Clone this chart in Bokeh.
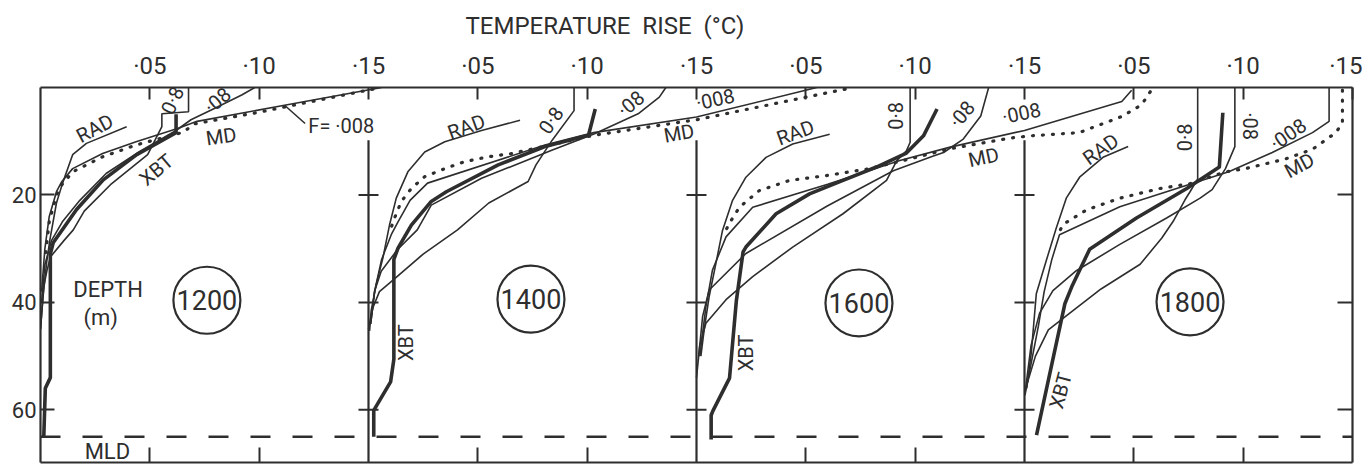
from bokeh.plotting import figure
from bokeh.models import Range1d, LinearAxis, FixedTicker, Label, Title
from bokeh.embed import file_html
from bokeh.resources import INLINE

# ---------------- categories / ticks ----------------
stations = ["1200", "1400", "1600", "1800"]
panel_span = 0.15
top_ticks = [0.05, 0.10, 0.15]
top_tick_labels = ["·05", "·10", "·15"]
bottom_ticks = [0.05, 0.10]
depth_ticks = [20, 40, 60]
depth_tick_labels = ["20", "40", "60"]
mld_depth = 65.0
depth_max = 69.8

# ---------------- profiles: temperature rise (°C) and depth (m) ----------------
# station 1200
xbt_t_1200 = [0.062, 0.062, 0.044, 0.0287, 0.0165, 0.0058, 0.0045, 0.0045, 0.0022, 0.0015]
xbt_d_1200 = [5.0, 8.4, 12.5, 17.2, 22.7, 28.9, 31.0, 54.0, 56.0, 65.0]
rad_t_1200 = [0.0394, 0.021, 0.0147, 0.0101, 0.0073, 0.0043, 0.0028, 0.0012, 0.0]
rad_d_1200 = [7.3, 10.4, 12.5, 17.8, 21.5, 28.3, 32.6, 38.8, 45.0]
md_t_1200 = [0.152, 0.10, 0.07, 0.0655, 0.0437, 0.0284, 0.0147, 0.0096, 0.0073, 0.004, 0.002]
md_d_1200 = [0.3, 4.6, 6.8, 8.3, 10.7, 12.9, 15.7, 18.2, 20.0, 25.0, 32.0]
f0008_t_1200 = [0.156, 0.1116, 0.0716, 0.063, 0.0437, 0.0284, 0.0147, 0.0096, 0.0073, 0.004, 0.002, 0.0005]
f0008_d_1200 = [0.0, 3.3, 6.3, 7.6, 10.1, 12.3, 15.1, 17.6, 19.4, 24.0, 30.0, 38.0]
f008_t_1200 = [0.098, 0.092, 0.0795, 0.0688, 0.062, 0.045, 0.03, 0.018, 0.01, 0.005, 0.002, 0.0005]
f008_d_1200 = [0.0, 1.4, 3.9, 6.0, 8.0, 12.0, 16.0, 21.0, 25.0, 28.5, 33.0, 40.0]
f08_t_1200 = [0.0677, 0.0677, 0.0555, 0.0555, 0.049, 0.032, 0.02, 0.015, 0.0107, 0.0046, 0.003, 0.0015, 0.0]
f08_d_1200 = [0.0, 4.5, 4.9, 7.3, 12.5, 18.1, 23.0, 26.5, 28.5, 31.5, 34.0, 37.0, 45.0]

# station 1400
xbt_t_1400 = [0.1037, 0.1006, 0.0807, 0.0593, 0.0356, 0.0287, 0.0196, 0.0135, 0.0116, 0.0116, 0.0101, 0.0024, 0.0024]
xbt_d_1400 = [4.0, 8.9, 11.0, 14.4, 19.4, 21.2, 25.6, 29.9, 32.0, 50.6, 54.8, 60.1, 65.0]
rad_t_1400 = [0.0693, 0.0517, 0.0349, 0.0257, 0.018, 0.0127, 0.0096, 0.0066, 0.0035, 0.0012, 0.0005]
rad_d_1400 = [6.1, 8.0, 10.1, 12.0, 15.7, 20.6, 25.6, 31.7, 36.7, 41.6, 45.3]
md_t_1400 = [0.218, 0.15, 0.103, 0.0654, 0.0547, 0.044, 0.0349, 0.0257, 0.0196, 0.015, 0.0119, 0.010]
md_d_1400 = [0.3, 6.0, 8.9, 12.3, 12.9, 13.8, 15.1, 16.6, 18.8, 21.2, 24.3, 26.5]
f0008_t_1400 = [0.205, 0.15, 0.103, 0.0807, 0.027, 0.019, 0.0135, 0.0104, 0.006, 0.0028, 0.001]
f0008_d_1400 = [0.0, 5.5, 8.4, 10.7, 17.8, 21.0, 25.0, 27.4, 32.0, 37.9, 44.0]
f008_t_1400 = [0.136, 0.133, 0.1233, 0.1034, 0.0838, 0.0517, 0.0287, 0.0223, 0.0132, 0.0058, 0.0028, 0.001]
f008_d_1400 = [0.0, 1.8, 4.9, 8.6, 11.7, 16.9, 21.9, 26.5, 30.2, 34.2, 37.9, 44.0]
f08_t_1400 = [0.094, 0.094, 0.084, 0.0766, 0.073, 0.055, 0.0407, 0.025, 0.0116, 0.005, 0.002, 0.0]
f08_d_1400 = [0.0, 4.3, 9.8, 14.4, 17.5, 21.5, 26.5, 31.0, 35.7, 38.0, 41.0, 45.0]

# station 1600
xbt_t_1600 = [0.11, 0.1038, 0.096, 0.0823, 0.067, 0.0517, 0.0364, 0.0226, 0.0213, 0.0182, 0.0151, 0.0075, 0.0067, 0.0067]
xbt_d_1600 = [4.0, 9.0, 12.2, 14.8, 17.3, 19.8, 23.5, 29.7, 30.6, 39.8, 54.1, 60.2, 61.0, 65.5]
rad_t_1600 = [0.0609, 0.044, 0.0318, 0.0226, 0.0165, 0.0119, 0.0089, 0.0058, 0.0035, 0.002]
rad_d_1600 = [8.7, 10.5, 13.0, 16.7, 21.0, 26.6, 32.7, 38.9, 45.1, 50.0]
md_t_1600 = [0.2075, 0.2036, 0.1945, 0.175, 0.153, 0.1436, 0.116, 0.0916, 0.0777, 0.0593, 0.0425, 0.0287, 0.0196, 0.015, 0.0127]
md_d_1600 = [0.8, 3.2, 5.4, 8.4, 9.0, 9.4, 11.4, 13.9, 15.2, 16.4, 17.3, 19.2, 22.3, 25.3, 27.2]
f0008_t_1600 = [0.199, 0.1945, 0.15, 0.116, 0.093, 0.06, 0.0257, 0.0135, 0.0073, 0.0043, 0.0015]
f0008_d_1600 = [0.5, 2.6, 8.0, 11.1, 13.6, 18.0, 22.3, 27.8, 34.0, 40.8, 50.0]
f008_t_1600 = [0.1336, 0.13, 0.122, 0.113, 0.108, 0.09, 0.06, 0.0226, 0.0058, 0.0028, 0.001]
f008_d_1600 = [0.0, 5.3, 9.6, 12.1, 12.8, 15.5, 22.0, 30.9, 37.7, 42.6, 50.0]
f08_t_1600 = [0.0977, 0.0977, 0.096, 0.0916, 0.0869, 0.067, 0.044, 0.0257, 0.0135, 0.0043, 0.0015, 0.0]
f08_d_1600 = [0.0, 10.2, 11.8, 13.6, 17.3, 23.5, 29.7, 35.2, 39.5, 43.9, 48.0, 54.0]

# station 1800
xbt_t_1800 = [0.0907, 0.0891, 0.0742, 0.0512, 0.0298, 0.0216, 0.0185, 0.0055]
xbt_d_1800 = [4.7, 14.8, 18.8, 24.3, 30.1, 37.1, 40.2, 64.7]
rad_t_1800 = [0.0474, 0.0359, 0.0252, 0.0191, 0.0145, 0.0099, 0.0054, 0.0031, 0.001]
rad_d_1800 = [11.0, 13.0, 16.7, 20.6, 26.2, 32.3, 38.4, 49.4, 56.0]
md_t_1800 = [0.1454, 0.1454, 0.1424, 0.1317, 0.1194, 0.101, 0.0919, 0.0757, 0.0619, 0.0436, 0.0283, 0.0176, 0.0153]
md_d_1800 = [0.5, 6.6, 8.4, 11.5, 13.3, 15.1, 15.7, 17.9, 18.8, 20.6, 22.8, 25.5, 27.4]
f0008_t_1800 = [0.1393, 0.1393, 0.1317, 0.1133, 0.0934, 0.0742, 0.0436, 0.016, 0.0125, 0.009, 0.0063, 0.0002]
f0008_d_1800 = [0.0, 6.3, 8.4, 12.1, 15.7, 18.2, 22.2, 27.4, 32.0, 38.0, 44.5, 57.3]
f008_t_1800 = [0.0962, 0.0962, 0.0919, 0.0858, 0.0803, 0.065, 0.0436, 0.0237, 0.013, 0.0069, 0.003, 0.0002]
f008_d_1800 = [0.0, 11.0, 15.1, 19.0, 20.6, 24.3, 29.2, 34.1, 37.8, 42.0, 48.0, 57.0]
f08_t_1800 = [0.0792, 0.0792, 0.0757, 0.0734, 0.068, 0.0628, 0.0529, 0.035, 0.0185, 0.0109, 0.005, 0.0009]
f08_d_1800 = [0.0, 17.0, 19.4, 20.9, 24.9, 28.0, 32.9, 37.5, 42.7, 45.1, 50.0, 55.5]

profiles = [
    dict(xbt=(xbt_t_1200, xbt_d_1200), rad=(rad_t_1200, rad_d_1200), md=(md_t_1200, md_d_1200),
         f0008=(f0008_t_1200, f0008_d_1200), f008=(f008_t_1200, f008_d_1200), f08=(f08_t_1200, f08_d_1200)),
    dict(xbt=(xbt_t_1400, xbt_d_1400), rad=(rad_t_1400, rad_d_1400), md=(md_t_1400, md_d_1400),
         f0008=(f0008_t_1400, f0008_d_1400), f008=(f008_t_1400, f008_d_1400), f08=(f08_t_1400, f08_d_1400)),
    dict(xbt=(xbt_t_1600, xbt_d_1600), rad=(rad_t_1600, rad_d_1600), md=(md_t_1600, md_d_1600),
         f0008=(f0008_t_1600, f0008_d_1600), f008=(f008_t_1600, f008_d_1600), f08=(f08_t_1600, f08_d_1600)),
    dict(xbt=(xbt_t_1800, xbt_d_1800), rad=(rad_t_1800, rad_d_1800), md=(md_t_1800, md_d_1800),
         f0008=(f0008_t_1800, f0008_d_1800), f008=(f008_t_1800, f008_d_1800), f08=(f08_t_1800, f08_d_1800)),
]

# ---------------- styling ----------------
INK = "#2e2e2e"
FONT = "Roboto"
n_panels = len(stations)
x_total = panel_span * n_panels
px_per_unit = 1312 / x_total

p = figure(width=1362, height=466, x_range=Range1d(0, x_total), y_range=Range1d(depth_max, 0),
           output_backend="svg", toolbar_location=None,
           x_axis_location=None, y_axis_location=None,
           min_border_left=40, min_border_right=10, min_border_top=84, min_border_bottom=4,
           background_fill_color="white", border_fill_color="white")
p.outline_line_color = None
p.grid.visible = False

def r4(v):
    return round(v, 4)

top_vals = [r4(i * panel_span + t) for i in range(n_panels) for t in top_ticks]
top_labels = {r4(i * panel_span + t): lab for i in range(n_panels) for t, lab in zip(top_ticks, top_tick_labels)}
bot_vals = [r4(i * panel_span + t) for i in range(n_panels) for t in bottom_ticks]

def style_axis(ax):
    ax.axis_line_color = INK
    ax.axis_line_width = 2.2
    ax.major_tick_line_color = INK
    ax.major_tick_line_width = 2
    ax.major_tick_out = 0
    ax.minor_tick_in = 0
    ax.minor_tick_out = 0
    ax.major_label_text_font = FONT
    ax.major_label_text_color = INK

top_ax = LinearAxis(ticker=FixedTicker(ticks=top_vals), major_label_overrides=top_labels)
style_axis(top_ax)
top_ax.major_tick_in = 12
top_ax.major_label_text_font_size = "24px"
top_ax.major_label_standoff = 8
p.add_layout(top_ax, "above")

bot_ax = LinearAxis(ticker=FixedTicker(ticks=bot_vals), major_label_overrides={v: "" for v in bot_vals})
style_axis(bot_ax)
bot_ax.major_tick_in = 15
p.add_layout(bot_ax, "below")

left_ax = LinearAxis(ticker=FixedTicker(ticks=depth_ticks),
                     major_label_overrides={v: s for v, s in zip(depth_ticks, depth_tick_labels)})
style_axis(left_ax)
left_ax.major_tick_in = 14
left_ax.major_label_text_font_size = "22px"
left_ax.major_label_standoff = 4
p.add_layout(left_ax, "left")

right_ax = LinearAxis(ticker=FixedTicker(ticks=depth_ticks), major_label_overrides={v: "" for v in depth_ticks})
style_axis(right_ax)
right_ax.major_tick_in = 15
p.add_layout(right_ax, "right")

# title (non-breaking double spaces keep the wide word gaps)
title_text = "TEMPERATURE\u00a0\u00a0RISE\u00a0\u00a0(°C)"
p.add_layout(Title(text=title_text, align="left", offset=425, standoff=18,
                   text_font=FONT, text_font_size="24px", text_font_style="normal", text_color=INK), "above")

# panel separators (with a gap near the surface) and their crossing ticks
bounds = [r4(i * panel_span) for i in range(1, n_panels)]
p.segment(x0=bounds, y0=[9.8] * len(bounds), x1=bounds, y1=[depth_max] * len(bounds),
          line_color=INK, line_width=2.2)
half = 10 / px_per_unit
sx0 = [b - half for b in bounds for _ in depth_ticks]
sx1 = [b + half for b in bounds for _ in depth_ticks]
sy = [d for _ in bounds for d in depth_ticks]
p.segment(x0=sx0, y0=sy, x1=sx1, y1=sy, line_color=INK, line_width=2)

# mixed layer depth
p.line([0, x_total], [mld_depth, mld_depth], line_color=INK, line_width=2.4, line_dash="20 22")

# profiles
for i, prof in enumerate(profiles):
    off = i * panel_span
    for key in ("f08", "f008", "f0008", "rad"):
        t, d = prof[key]
        p.line([v + off for v in t], d, line_color=INK, line_width=1.6)
    t, d = prof["md"]
    p.line([v + off for v in t], d, line_color=INK, line_width=3.2, line_dash="1 9", line_cap="round")
    t, d = prof["xbt"]
    p.line([v + off for v in t], d, line_color=INK, line_width=3.6, line_join="round")

# station circles
circ_t = [0.0761, 0.0743, 0.0743, 0.0757]
circ_d = [39.6, 39.4, 40.1, 39.9]
p.scatter([c + i * panel_span for i, c in enumerate(circ_t)], circ_d, marker="circle", size=67,
          fill_color=None, line_color=INK, line_width=2.2)

def lab(x, y, text, size="20px", angle=0, align="center"):
    p.add_layout(Label(x=x, y=y, text=text, angle=angle, angle_units="deg", text_align=align,
                       text_baseline="middle", text_font=FONT, text_font_size=size, text_color=INK))

for i, (name, c, dd) in enumerate(zip(stations, circ_t, circ_d)):
    lab(c + i * panel_span, dd, name, size="27px")

# curve annotations (panel-local x, depth)
annotations = [
    (0, 0.0248, 7.6, "RAD", 28), (0, 0.0604, 2.4, "0·8", 65), (0, 0.081, 2.4, "·08", 40),
    (0, 0.0826, 9.1, "MD", 8), (0, 0.053, 15.3, "XBT", 40),
    (1, 0.0448, 7.3, "RAD", 20), (1, 0.0835, 6.1, "0·8", 55), (1, 0.120, 3.0, "·08", 40),
    (1, 0.1586, 2.2, "·008", 12), (1, 0.142, 8.5, "MD", 10), (1, 0.0173, 47.5, "XBT", 90),
    (2, 0.0452, 8.4, "RAD", 20), (2, 0.0912, 5.3, "0·8", 90), (2, 0.1214, 5.0, "·08", 50),
    (2, 0.1313, 13.0, "MD", 12), (2, 0.1486, 4.8, "·008", 12), (2, 0.0225, 49.4, "XBT", 90),
    (3, 0.0349, 11.5, "RAD", 35), (3, 0.0735, 9.3, "0·8", 90), (3, 0.1029, 7.2, "·08", -90),
    (3, 0.1206, 8.7, "·008", 35), (3, 0.1257, 14.5, "MD", 28), (3, 0.0165, 56.4, "XBT", 75),
]
for i, tx, dy, text, ang in annotations:
    lab(i * panel_span + tx, dy, text, angle=ang)

lab(0.1225, 7.1, "F= ·008", align="left")
p.line([0.1116, 0.121], [3.3, 6.7], line_color=INK, line_width=1.6)
lab(0.0309, 37.6, "DEPTH", size="22px")
lab(0.0275, 42.8, "(m)", size="22px")
lab(0.0306, 67.8, "MLD", size="22px")

open("out.html", "w").write(file_html(p, INLINE))
